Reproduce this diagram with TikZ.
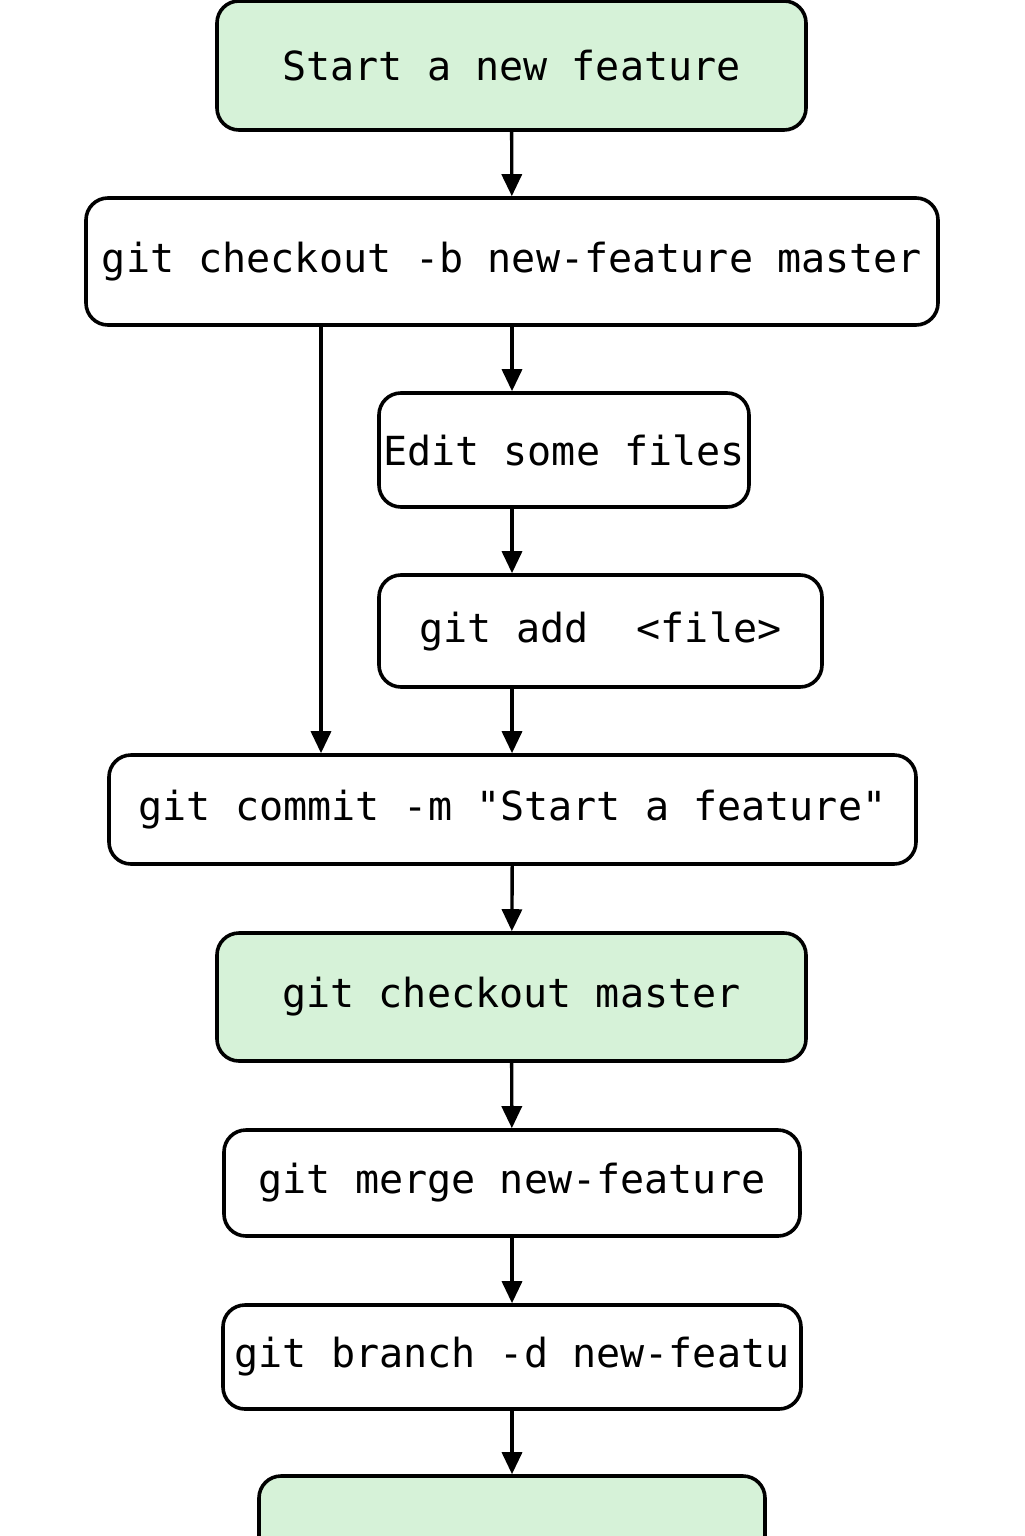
\documentclass[tikz,border=0pt]{standalone}
\usepackage{fontspec}
\setmonofont{DejaVu Sans Mono}
\usepackage{tikz}
\usetikzlibrary{positioning}
\usetikzlibrary{arrows.meta}
\definecolor{focusColor}{RGB}{214,242,216}

\begin{document}
\begin{tikzpicture}

          \tikzstyle{normalBox} = [draw, line width=0.036cm, rounded corners=0.22cm, fill=white, inner xsep=0pt, font=\ttfamily\fontsize{11.4}{14}\selectfont];
          \tikzstyle{focusBox} = [normalBox, fill=focusColor];

          \tikzstyle{normalEdge} = [line width=0.034cm, -{Triangle[length=0.22cm,width=0.2cm]}];

          \useasboundingbox (0,0) rectangle (10.24,-15.36);

          \node[focusBox, minimum width=5.89cm, minimum height=1.29cm] (start) at (5.115,-0.655) {Start a new feature};
          \node[normalBox, minimum width=8.52cm, minimum height=1.27cm] (checkoutb) at (5.12,-2.615) {git checkout -b new-feature master};
          \node[normalBox, minimum width=3.70cm, minimum height=1.14cm] (edit) at (5.64,-4.50) {Edit some files};
          \node[normalBox, minimum width=4.43cm, minimum height=1.12cm] (add) at (6.005,-6.31) {git add~~<file>};
          \node[normalBox, minimum width=8.07cm, minimum height=1.09cm] (commit) at (5.125,-8.095) {git commit -m "Start a feature"};
          \node[focusBox, minimum width=5.89cm, minimum height=1.28cm] (checkoutm) at (5.115,-9.97) {git checkout master};
          \node[normalBox, minimum width=5.76cm, minimum height=1.06cm] (merge) at (5.12,-11.83) {git merge new-feature};
          \node[normalBox, minimum width=5.78cm, minimum height=1.04cm] (branch) at (5.12,-13.57) {git branch -d new-featu};
          \node[focusBox, minimum width=5.06cm, minimum height=1.28cm] (finish) at (5.12,-15.40) {};

          \draw[normalEdge] (start) -- (checkoutb);
          \draw[normalEdge] (checkoutb.south) -- (checkoutb.south |- edit.north);
          \draw[normalEdge] (checkoutb.south -| 3.21,0) -- (commit.north -| 3.21,0);
          \draw[normalEdge] (edit.south -| checkoutb.south) -- (add.north -| checkoutb.south);
          \draw[normalEdge] (add.south -| checkoutb.south) -- (commit.north -| checkoutb.south);
          \draw[normalEdge] (commit) -- (checkoutm);
          \draw[normalEdge] (checkoutm) -- (merge);
          \draw[normalEdge] (merge) -- (branch);
          \draw[normalEdge] (branch) -- (finish);
        \end{tikzpicture}
\end{document}
